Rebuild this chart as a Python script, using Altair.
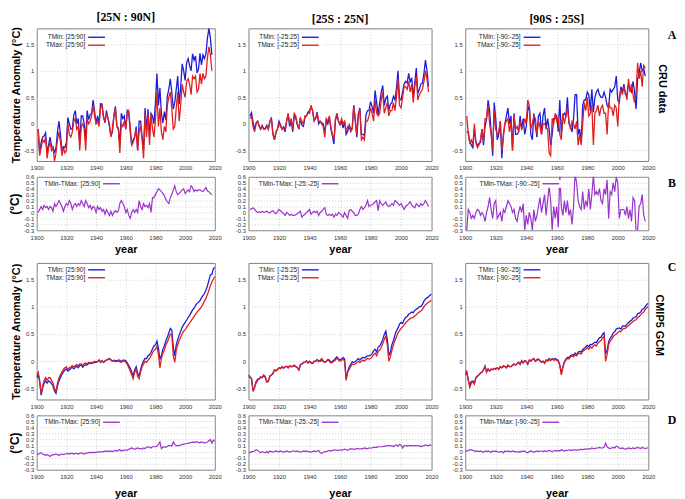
import altair as alt
import pandas as pd

# ---------------- data ----------------
CRU_YEARS = list(range(1901, 2019))
GCM_YEARS = list(range(1900, 2021))

REGION_TITLES = ["[25N : 90N]", "[25S : 25N]", "[90S : 25S]"]
TEMP_KEYS = ["[25:90]", "[-25:25]", "[-90:-25]"]
DIFF_KEYS = ["[25:90]", "[-25:-25]", "[-90:-25]"]
X_TICKS = [1900, 1920, 1940, 1960, 1980, 2000, 2020]
Y_TICKS_T = [-0.5, 0, 0.5, 1, 1.5]
Y_TICKS_D = [-0.3, -0.2, -0.1, 0, 0.1, 0.2, 0.3, 0.4, 0.5, 0.6]

# CRU TMax, 1901-2018
cru_tmax_n = [
    -0.1, -0.6, -0.45, -0.3, -0.35, -0.25, -0.65, -0.45, -0.35, -0.5,
    -0.45, -0.7, -0.55, -0.3, -0.15, -0.35, -0.6, -0.45, -0.55, -0.5,
    0.0, -0.2, -0.25, -0.15, 0.05, 0.1, -0.1, -0.05, -0.5, -0.05,
    0.0, -0.1, -0.5, 0.1, 0.0, 0.05, 0.15, 0.35, 0.15, 0.0,
    0.05, -0.05, 0.3, 0.35, 0.1, 0.05, 0.2, 0.1, 0.0, -0.25,
    -0.1, 0.15, 0.3, -0.05, -0.1, -0.55, 0.0, -0.05, 0.05, -0.1,
    0.2, 0.25, -0.05, -0.4, -0.35, -0.25, -0.1, -0.5, -0.15, -0.05,
    -0.3, -0.65, 0.2, -0.25, 0.2, -0.4, 0.2, -0.1, -0.25, 0.1,
    0.6, -0.05, 0.3, -0.15, -0.3, -0.05, -0.15, 0.35, 0.5, 0.6,
    0.3, -0.1, -0.05, 0.3, 0.6, 0.05, 0.35, 0.75, 0.6, 0.5,
    0.8, 0.85, 0.75, 0.55, 0.9, 0.85, 0.9, 0.6, 0.65, 0.95,
    0.75, 0.95, 0.85, 0.9, 1.25, 1.45, 1.3, 1.0,
]
cru_diff_n = [
    0.0, 0.05, 0.1, 0.05, 0.12, 0.08, 0.1, 0.05, 0.1, 0.08,
    0.02, 0.15, 0.1, 0.15, 0.2, 0.15, 0.1, 0.02, 0.1, 0.15,
    0.12, 0.2, 0.15, 0.05, 0.12, 0.15, 0.1, 0.15, 0.12, 0.2,
    0.15, 0.1, 0.2, 0.15, 0.08, 0.12, 0.05, 0.1, 0.08, 0.0,
    0.1, 0.05, 0.08, 0.02, 0.05, -0.03, 0.05, 0.0, -0.05, 0.02,
    -0.05, 0.0, 0.03, 0.0, 0.02, 0.15, 0.2, 0.15, 0.1, 0.0,
    0.05, -0.05, -0.1, 0.0, 0.05, 0.0, 0.05, 0.0, 0.2, 0.1,
    0.05, 0.15, 0.1, 0.12, 0.08, 0.15, 0.0, 0.25, 0.25, 0.3,
    0.35, 0.4, 0.38, 0.35, 0.32, 0.28, 0.22, 0.18, 0.15, 0.25,
    0.3, 0.38, 0.45, 0.35, 0.3, 0.32, 0.35, 0.38, 0.4, 0.32,
    0.35, 0.38, 0.35, 0.45, 0.42, 0.35, 0.38, 0.36, 0.38, 0.38,
    0.36, 0.35, 0.38, 0.42, 0.36, 0.35, 0.32, 0.3,
]
cru_tmax_t = [
    0.1, 0.15, -0.05, -0.15, 0.0, 0.05, -0.05, -0.1, -0.05, -0.1,
    -0.1, -0.05, -0.1, 0.05, 0.1, -0.2, -0.3, -0.15, -0.1, 0.0,
    -0.05, -0.1, -0.05, -0.1, 0.05, 0.2, 0.0, 0.1, -0.1, 0.2,
    0.15, 0.0, -0.1, 0.1, 0.05, 0.0, 0.15, 0.15, 0.2, 0.2,
    0.35, 0.25, 0.05, 0.1, 0.2, 0.05, 0.05, 0.0, -0.05, -0.25,
    0.1, 0.05, 0.15, -0.05, -0.2, -0.3, 0.1, 0.2, 0.05, 0.0,
    0.1, 0.0, 0.05, -0.15, -0.05, -0.05, -0.15, -0.1, 0.35, 0.1,
    -0.2, 0.2, 0.25, -0.3, -0.25, -0.3, 0.05, 0.05, 0.15, 0.3,
    0.2, 0.05, 0.45, 0.2, 0.15, 0.2, 0.45, 0.6, 0.2, 0.3,
    0.4, 0.15, 0.25, 0.25, 0.4, 0.25, 0.5, 0.85, 0.35, 0.3,
    0.5, 0.7, 0.7, 0.65, 0.8, 0.6, 0.75, 0.4, 0.7, 0.9,
    0.45, 0.55, 0.6, 0.65, 0.8, 1.0, 0.85, 0.6,
]
cru_diff_t = [
    0.05, 0.06, 0.08, 0.05, 0.02, 0.0, 0.01, 0.0, 0.02, 0.0,
    0.01, 0.02, 0.0, -0.01, 0.02, 0.03, 0.0, -0.02, 0.01, 0.05,
    0.03, 0.0, -0.02, -0.05, 0.0, -0.02, -0.05, -0.03, -0.05, -0.05,
    -0.04, -0.02, 0.0, 0.02, -0.08, -0.05, -0.03, 0.0, 0.02, 0.05,
    -0.03, 0.0, 0.02, 0.0, 0.02, -0.05, 0.0, 0.02, 0.05, 0.08,
    -0.03, -0.05, -0.03, -0.05, -0.03, -0.08, -0.03, -0.05, 0.0, -0.02,
    -0.05, -0.08, 0.0, -0.05, -0.1, 0.03, 0.05, 0.02, 0.0, -0.05,
    -0.05, -0.03, 0.05, 0.1, 0.05, 0.08, 0.12, 0.2, 0.1, 0.12,
    0.13, 0.15, 0.18, 0.2, 0.03, 0.2, 0.15, 0.12, 0.15, 0.18,
    0.12, 0.1, 0.12, 0.15, 0.12, 0.2, 0.18, 0.15, 0.12, 0.15,
    0.1, 0.05, 0.1, 0.12, 0.15, 0.18, 0.12, 0.1, 0.08, 0.15,
    0.12, 0.1, 0.15, 0.12, 0.15, 0.2, 0.15, 0.1,
]
cru_tmax_s = [
    0.15, -0.2, -0.35, -0.3, -0.4, 0.0, -0.35, -0.45, -0.4, -0.3,
    -0.1, -0.35, 0.1, 0.1, 0.35, 0.0, -0.2, -0.5, 0.25, -0.1,
    -0.2, -0.15, 0.05, -0.5, -0.25, 0.0, 0.05, 0.1, -0.15, 0.05,
    -0.5, 0.15, -0.1, -0.05, -0.15, 0.05, -0.1, -0.05, 0.1, 0.0,
    0.45, 0.35, -0.1, 0.0, 0.15, 0.1, -0.2, 0.05, -0.05, -0.2,
    0.0, 0.0, -0.05, -0.1, -0.55, -0.6, 0.1, 0.0, 0.2, 0.05,
    0.1, -0.2, -0.3, 0.2, 0.0, 0.15, 0.3, 0.05, -0.1, 0.05,
    0.0, -0.1, 0.05, -0.4, -0.2, -0.4, 0.0, 0.4, 0.25, 0.5,
    0.15, 0.2, 0.35, -0.4, 0.2, 0.25, 0.35, 0.15, 0.3, 0.35,
    0.2, 0.2, -0.2, 0.4, 0.3, 0.3, 0.15, 0.35, 0.3, -0.05,
    0.5, 0.65, 0.55, 0.7, 0.6, 0.45, 0.85, 0.6, 0.75, 0.55,
    0.4, 0.6, 1.15, 0.85, 1.0, 0.7, 1.1, 1.05,
]
cru_diff_s = [
    -0.3, 0.05, 0.0, -0.1, -0.05, -0.1, 0.0, 0.05, 0.03, -0.05,
    0.0, -0.05, -0.15, 0.0, 0.1, 0.25, 0.05, -0.1, 0.15, 0.2,
    -0.1, -0.05, 0.0, -0.15, 0.05, 0.0, 0.1, 0.2, 0.15, 0.1,
    0.0, 0.05, -0.1, -0.15, 0.0, 0.1, 0.0, 0.15, -0.3, -0.05,
    -0.2, 0.0, -0.1, -0.3, 0.05, -0.15, -0.05, 0.1, 0.25, 0.0,
    0.15, 0.3, -0.05, 0.2, 0.45, 0.2, -0.3, 0.1, -0.1, 0.1,
    -0.25, 0.65, 0.1, -0.05, 0.2, 0.0, 0.2, -0.05, 0.05, -0.2,
    0.1, 0.65, 0.5, 0.2, 0.1, 0.05, 0.35, 0.05, 0.2, 0.1,
    0.4, 0.05, 0.3, 0.62, 0.3, 0.35, 0.3, 0.4, 0.2, 0.15,
    0.4, 0.3, 0.55, -0.1, 0.35, 0.3, 0.5, 0.35, 0.6, 0.5,
    -0.1, 0.05, 0.05, 0.05, -0.05, 0.1, -0.1, 0.05, -0.15, 0.25,
    0.2, -0.32, -0.3, 0.1, 0.15, 0.3, -0.05, -0.15,
]

# CMIP5 GCM TMax, 1900-2020
gcm_tmax_n = [
    -0.25, -0.2, -0.35, -0.6, -0.45, -0.35, -0.3, -0.35, -0.3, -0.3,
    -0.35, -0.4, -0.5, -0.55, -0.4, -0.3, -0.25, -0.2, -0.15, -0.12,
    -0.1, -0.15, -0.12, -0.1, -0.08, -0.1, -0.08, -0.06, -0.08, -0.05,
    -0.05, -0.08, -0.04, -0.03, -0.05, -0.02, -0.03, -0.02, -0.02, 0.0,
    -0.01, 0.0, 0.02, -0.01, 0.01, -0.02, 0.0, 0.02, 0.03, 0.05,
    0.02, 0.0, 0.01, -0.01, 0.0, 0.0, -0.01, -0.02, 0.0, 0.0,
    -0.02, -0.05, -0.12, -0.18, -0.25, -0.32, -0.2, -0.15, -0.28, -0.32,
    -0.2, -0.1, -0.05, 0.0, -0.02, 0.02, 0.05, 0.1, 0.15, 0.2,
    0.22, 0.28, 0.12, -0.12, 0.05, 0.15, 0.2, 0.3, 0.35, 0.42,
    0.5, 0.48, 0.1, -0.02, 0.2, 0.3, 0.38, 0.44, 0.5, 0.55,
    0.58, 0.62, 0.66, 0.7, 0.74, 0.78, 0.82, 0.86, 0.9, 0.93,
    0.96, 1.0, 1.05, 1.1, 1.15, 1.22, 1.3, 1.38, 1.45, 1.5,
    1.55,
]
gcm_diff_n = [
    -0.05, -0.04, -0.03, -0.02, -0.04, -0.05, -0.06, -0.05, -0.06, -0.08,
    -0.06, -0.05, -0.05, -0.04, -0.05, -0.06, -0.05, -0.04, -0.05, -0.04,
    -0.04, -0.03, -0.04, -0.03, -0.03, -0.04, -0.03, -0.03, -0.04, -0.03,
    -0.02, -0.03, -0.04, -0.03, -0.02, -0.02, -0.01, -0.02, -0.01, -0.02,
    -0.01, -0.01, 0.0, -0.01, 0.0, 0.0, 0.01, 0.0, 0.01, 0.0,
    0.01, 0.0, 0.01, 0.02, 0.01, 0.02, 0.03, 0.01, 0.02, 0.02,
    0.03, 0.02, 0.04, 0.05, 0.06, 0.05, 0.04, 0.05, 0.06, 0.05,
    0.05, 0.04, 0.06, 0.05, 0.07, 0.08, 0.07, 0.06, 0.08, 0.08,
    0.08, 0.09, 0.12, 0.16, 0.05, 0.07, 0.08, 0.07, 0.09, 0.1,
    0.1, 0.09, 0.16, 0.12, 0.1, 0.1, 0.1, 0.11, 0.12, 0.12,
    0.13, 0.13, 0.14, 0.14, 0.15, 0.16, 0.15, 0.16, 0.16, 0.15,
    0.15, 0.16, 0.15, 0.14, 0.15, 0.16, 0.18, 0.2, 0.14, 0.19,
    0.17,
]
gcm_tmax_t = [
    -0.25, -0.28, -0.32, -0.55, -0.48, -0.4, -0.35, -0.32, -0.28, -0.3,
    -0.25, -0.28, -0.38, -0.35, -0.28, -0.25, -0.22, -0.16, -0.18, -0.15,
    -0.12, -0.14, -0.1, -0.12, -0.1, -0.1, -0.12, -0.08, -0.1, -0.1,
    -0.08, -0.1, -0.12, -0.16, -0.06, -0.05, -0.03, -0.02, 0.0, -0.03,
    0.0, -0.02, -0.04, -0.01, 0.0, 0.02, -0.01, 0.02, 0.05, 0.01,
    -0.02, 0.0, 0.02, 0.0, -0.03, -0.02, 0.0, 0.02, 0.06, 0.02,
    0.0, 0.02, 0.04, 0.0, -0.35, -0.2, -0.15, -0.1, -0.05, -0.06,
    -0.05, -0.03, 0.0, -0.02, 0.0, 0.02, 0.0, 0.03, 0.05, 0.04,
    0.05, 0.08, 0.12, 0.15, 0.1, 0.18, 0.2, 0.25, 0.32, 0.4,
    0.46, 0.3, 0.0, 0.08, 0.2, 0.3, 0.38, 0.45, 0.52, 0.56,
    0.6, 0.63, 0.66, 0.7, 0.73, 0.76, 0.78, 0.8, 0.8, 0.83,
    0.85, 0.88, 0.9, 0.92, 0.95, 1.0, 1.03, 1.06, 1.08, 1.1,
    1.12,
]
gcm_diff_t = [
    -0.01, -0.02, 0.0, 0.0, 0.01, 0.03, 0.02, 0.0, -0.02, 0.0,
    -0.01, -0.02, 0.0, -0.02, 0.01, 0.0, -0.01, 0.0, 0.01, 0.0,
    0.0, 0.01, 0.0, -0.01, 0.0, 0.01, 0.0, -0.01, 0.0, 0.01,
    0.01, 0.0, 0.01, 0.0, -0.01, 0.0, 0.01, 0.0, 0.01, 0.0,
    0.0, -0.01, 0.0, 0.01, 0.0, 0.01, 0.02, -0.02, -0.03, -0.01,
    0.0, 0.0, 0.01, 0.02, 0.01, 0.02, 0.02, 0.03, 0.02, 0.02,
    0.03, 0.02, 0.03, 0.04, 0.03, 0.02, 0.04, 0.05, 0.04, 0.04,
    0.04, 0.05, 0.05, 0.04, 0.05, 0.05, 0.06, 0.05, 0.05, 0.06,
    0.06, 0.06, 0.07, 0.07, 0.07, 0.08, 0.08, 0.08, 0.08, 0.09,
    0.09, 0.1, 0.1, 0.09, 0.1, 0.08, 0.1, 0.11, 0.09, 0.12,
    0.11, 0.06, 0.1, 0.1, 0.09, 0.1, 0.1, 0.1, 0.09, 0.1,
    0.1, 0.09, 0.1, 0.08, 0.09, 0.1, 0.11, 0.1, 0.1, 0.11,
    0.11,
]
gcm_tmax_s = [
    -0.25, -0.2, -0.35, -0.48, -0.4, -0.38, -0.42, -0.3, -0.28, -0.25,
    -0.22, -0.2, -0.15, -0.1, -0.2, -0.15, -0.18, -0.14, -0.16, -0.13,
    -0.15, -0.12, -0.14, -0.1, -0.12, -0.08, -0.1, -0.12, -0.08, -0.1,
    -0.1, -0.08, -0.05, -0.07, -0.04, -0.02, -0.05, 0.0, -0.03, 0.0,
    0.0, -0.04, 0.02, 0.0, 0.03, 0.05, 0.0, 0.02, 0.04, 0.0,
    -0.02, 0.0, -0.04, 0.02, 0.0, 0.03, 0.01, 0.05, 0.02, 0.03,
    0.02, 0.0, -0.08, -0.25, -0.12, -0.02, 0.02, 0.05, 0.04, 0.08,
    0.1, 0.08, 0.12, 0.1, 0.14, 0.15, 0.13, 0.18, 0.2, 0.22,
    0.25, 0.22, 0.27, 0.24, 0.28, 0.3, 0.28, 0.33, 0.36, 0.38,
    0.43, 0.45, 0.0, 0.12, 0.3, 0.37, 0.4, 0.45, 0.48, 0.5,
    0.52, 0.55, 0.54, 0.58, 0.6, 0.6, 0.63, 0.65, 0.68, 0.7,
    0.73, 0.75, 0.76, 0.8, 0.82, 0.85, 0.88, 0.9, 0.95, 0.98,
    1.0,
]
gcm_diff_s = [
    0.0, 0.01, 0.02, 0.03, 0.03, 0.02, 0.01, 0.0, 0.01, 0.0,
    0.01, 0.0, -0.01, 0.01, 0.0, 0.01, 0.0, -0.01, 0.01, 0.0,
    0.01, 0.0, -0.01, 0.0, 0.0, -0.02, 0.01, 0.0, 0.01, 0.0,
    0.0, 0.01, 0.0, 0.0, -0.01, 0.0, -0.01, 0.01, 0.0, 0.01,
    -0.01, -0.02, 0.0, 0.01, 0.0, -0.01, 0.0, 0.01, 0.0, 0.01,
    0.01, 0.0, 0.01, 0.0, 0.01, 0.02, 0.01, 0.0, 0.01, 0.02,
    0.01, 0.02, 0.01, 0.03, 0.02, 0.01, 0.02, 0.02, 0.03, 0.02,
    0.02, 0.03, 0.03, 0.02, 0.03, 0.03, 0.04, 0.03, 0.04, 0.04,
    0.04, 0.05, 0.04, 0.06, 0.05, 0.05, 0.06, 0.06, 0.07, 0.06,
    0.06, 0.07, 0.14, 0.08, 0.06, 0.05, 0.06, 0.07, 0.06, 0.09,
    0.08, 0.06, 0.05, 0.06, 0.05, 0.04, 0.05, 0.06, 0.05, 0.05,
    0.06, 0.05, 0.06, 0.07, 0.06, 0.05, 0.07, 0.06, 0.05, 0.06,
    0.06,
]

CRU_TMAX = [cru_tmax_n, cru_tmax_t, cru_tmax_s]
CRU_DIFF = [cru_diff_n, cru_diff_t, cru_diff_s]
GCM_TMAX = [gcm_tmax_n, gcm_tmax_t, gcm_tmax_s]
GCM_DIFF = [gcm_diff_n, gcm_diff_t, gcm_diff_s]

# ---------------- style / layout ----------------
BLUE = "#1c1cd8"
RED = "#e02020"
PURPLE = "#9a32cc"
FONT = "Liberation Sans"
SERIF = "Liberation Serif"
WIDTHS = [180, 185, 185]
HA, HB, HC, HD = 134, 54, 138, 55
LEG_T = [49, 51, 56]     # right edge of legend text (temperature panels)
LEG_D = [64, 71, 75]     # right edge of legend text (difference panels)

XSCALE = alt.Scale(domain=[1900, 2020], nice=False, zero=False)
YT = alt.Scale(domain=[-0.7, 1.8], nice=False, zero=False)
YD = alt.Scale(domain=[-0.3, 0.6], nice=False, zero=False)
ANN = pd.DataFrame({"k": [0]})


def legend_layers(entries, xr, y0, dy):
    one = alt.Chart(ANN)
    n = len(entries)
    out = [one.mark_rect(color="white").encode(
        x=alt.value(3), x2=alt.value(xr + 23),
        y=alt.value(y0 - 4), y2=alt.value(y0 + dy * (n - 1) + 4))]
    for i, (lab, colr) in enumerate(entries):
        y = y0 + i * dy
        out.append(one.mark_text(align="right", baseline="middle", fontSize=6.5,
                                 font=FONT, color="#222").encode(
            x=alt.value(xr), y=alt.value(y), text=alt.value(lab)))
        out.append(one.mark_rule(color=colr, strokeWidth=1.4).encode(
            x=alt.value(xr + 3), x2=alt.value(xr + 20), y=alt.value(y)))
    return out


def side_layers(w, letter, letter_y, side_text=None, side_x=0, side_y=0):
    one = alt.Chart(ANN)
    out = [one.mark_text(font=SERIF, fontSize=12, fontWeight="bold", color="black",
                         align="center", baseline="middle").encode(
        x=alt.value(w + 24), y=alt.value(letter_y), text=alt.value(letter))]
    if side_text:
        out.append(one.mark_text(font=FONT, fontSize=11, fontWeight="bold", color="black",
                                 angle=90, align="center", baseline="middle").encode(
            x=alt.value(side_x), y=alt.value(side_y), text=alt.value(side_text)))
    return out


def temp_panel(years, tmax, diff, col, height, top, letter_info):
    w = WIDTHS[col]
    df = pd.DataFrame({"year": years, "tmax": tmax, "diff": diff})
    df["tmin"] = df["tmax"] + df["diff"]
    yargs = dict(values=Y_TICKS_T, labelExpr="toString(datum.value)", labelOverlap=False,
                 titleFontSize=11)
    if col == 0:
        yargs["title"] = "Temperature Anomaly (°C)"
    else:
        yargs["title"] = None
    yax = alt.Axis(**yargs)
    xax = alt.Axis(values=X_TICKS, format="d", title=None, labelFlush=False)
    base = alt.Chart(df).encode(x=alt.X("year:Q", scale=XSCALE, axis=xax))
    lmin = base.mark_line(color=BLUE, strokeWidth=1.3, clip=True).encode(
        y=alt.Y("tmin:Q", scale=YT, axis=yax))
    lmax = base.mark_line(color=RED, strokeWidth=1.3, clip=True).encode(
        y=alt.Y("tmax:Q", scale=YT, axis=yax))
    key = TEMP_KEYS[col]
    y0 = 9 if top else 7
    layers = [lmin, lmax] + legend_layers(
        [("TMin: " + key, BLUE), ("TMax: " + key, RED)], LEG_T[col], y0, 8)
    if letter_info:
        layers += side_layers(w, *letter_info)
    ch = alt.layer(*layers).properties(width=w, height=height)
    if top:
        ch = ch.properties(title=alt.TitleParams(
            REGION_TITLES[col], font=SERIF, fontSize=12, fontWeight="bold",
            color="black", anchor="middle", offset=2))
    return ch


def diff_panel(years, diff, col, height, year_pad, letter_info):
    w = WIDTHS[col]
    df = pd.DataFrame({"year": years, "diff": diff})
    yargs = dict(values=Y_TICKS_D, labelExpr="toString(datum.value)", labelOverlap=False,
                 titleFontSize=12)
    yargs["title"] = "(°C)" if col == 0 else None
    yax = alt.Axis(**yargs)
    xax = alt.Axis(values=X_TICKS, format="d", title="year", labelFlush=False,
                   titleFontSize=11, titlePadding=year_pad)
    line = alt.Chart(df).mark_line(color=PURPLE, strokeWidth=1.2, clip=True).encode(
        x=alt.X("year:Q", scale=XSCALE, axis=xax),
        y=alt.Y("diff:Q", scale=YD, axis=yax))
    layers = [line] + legend_layers([("TMin-TMax: " + DIFF_KEYS[col], PURPLE)],
                                    LEG_D[col], 7, 8)
    if letter_info:
        layers += side_layers(w, *letter_info)
    return alt.layer(*layers).properties(width=w, height=height)


def spacer(col):
    return alt.Chart(ANN).mark_text().encode(text=alt.value("")).properties(
        width=WIDTHS[col], height=1, view=alt.ViewBackground(strokeOpacity=0))


charts = []
for c in range(3):
    info = ["A", 7, "CRU data", WIDTHS[2] + 14, 61] if c == 2 else None
    charts.append(temp_panel(CRU_YEARS, CRU_TMAX[c], CRU_DIFF[c], c, HA, True, info))
for c in range(3):
    info = ["B", 6] if c == 2 else None
    charts.append(diff_panel(CRU_YEARS, CRU_DIFF[c], c, HB, 3, info))
for c in range(3):
    charts.append(spacer(c))
for c in range(3):
    info = ["C", 4, "CMIP5 GCM", WIDTHS[2] + 11, 63] if c == 2 else None
    charts.append(temp_panel(GCM_YEARS, GCM_TMAX[c], GCM_DIFF[c], c, HC, False, info))
for c in range(3):
    info = ["D", 5] if c == 2 else None
    charts.append(diff_panel(GCM_YEARS, GCM_DIFF[c], c, HD, 8, info))

chart = alt.ConcatChart(
    concat=charts, columns=3, spacing={"row": 16, "column": 34},
    bounds="flush", align="each", padding=0,
).configure_view(
    stroke="#808080", strokeWidth=1
).configure_axis(
    labelFont=FONT, labelFontSize=6, labelColor="#333333",
    grid=True, gridColor="#c4c4c4", gridDash=[1, 2], gridWidth=0.8,
    domain=False, ticks=False, labelPadding=3,
    titleFont=FONT, titleFontSize=10, titleFontWeight="bold", titleColor="black",
).configure_axisX(labelPadding=4).configure_axisY(titlePadding=2)

chart.save("out.html", embed_options={"renderer": "svg", "actions": False})
